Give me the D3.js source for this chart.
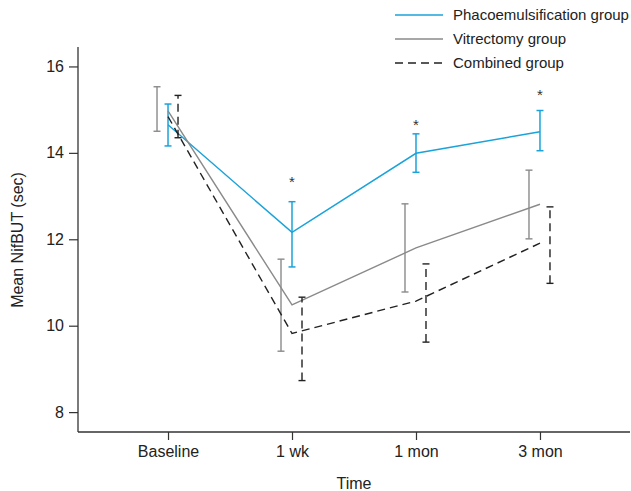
<!DOCTYPE html>
<html><head><meta charset="utf-8">
<script src="https://cdn.jsdelivr.net/npm/d3@7"></script>
<style>body{margin:0;background:#fff}svg{display:block}text{font-family:"Liberation Sans",Arial,sans-serif}</style>
</head><body><svg id="c" width="631" height="491"></svg>
<script>
const categories = ["Baseline", "1 wk", "1 mon", "3 mon"];
const yTicks = [8, 10, 12, 14, 16];
const seriesNames = ["Phacoemulsification group", "Vitrectomy group", "Combined group"];
const phacoMean = [14.65, 12.16, 13.99, 14.49];
const phacoLow  = [14.16, 11.36, 13.55, 14.05];
const phacoHigh = [15.13, 12.87, 14.44, 14.98];
const vitMean = [14.97, 10.48, 11.80, 12.81];
const vitLow  = [14.50, 9.41, 10.78, 12.01];
const vitHigh = [15.53, 11.54, 12.82, 13.60];
const combMean = [14.84, 9.82, 10.57, 11.91];
const combLow  = [14.35, 8.73, 9.62, 10.98];
const combHigh = [15.33, 10.66, 11.43, 12.75];
const starIdx = [1, 2, 3];
const starVal = [13.39, 14.72, 15.42];

const svg = d3.select("#c");
const x = d3.scalePoint().domain(categories).range([78, 630]).padding(0.726);
const y = d3.scaleLinear().domain([7.54, 16.45]).range([432, 47]);

const series = [
  {name: seriesNames[0], mean: phacoMean, lo: phacoLow, hi: phacoHigh, color: "#1aa3da", dash: null, off: 0, w: 1.5},
  {name: seriesNames[1], mean: vitMean, lo: vitLow, hi: vitHigh, color: "#8a8a8a", dash: null, off: -11, w: 1.4},
  {name: seriesNames[2], mean: combMean, lo: combLow, hi: combHigh, color: "#222", dash: "8,5", off: 10, w: 1.4}
];

// axes
const ya = svg.append("g").attr("transform", "translate(78,0)")
  .call(d3.axisLeft(y).tickValues(yTicks).tickSize(9).tickPadding(5).tickFormat(d3.format("d")));
const xa = svg.append("g").attr("transform", "translate(0,432)")
  .call(d3.axisBottom(x).tickSize(8).tickPadding(6));
[ya, xa].forEach(g => {
  g.select(".domain").attr("stroke", "#333").attr("stroke-width", 1.3);
  g.selectAll(".tick line").attr("stroke", "#333").attr("stroke-width", 1.2);
  g.selectAll(".tick text").attr("fill", "#222").style("font-size", "16px");
});
ya.select(".domain").attr("d", "M0,47V432");
xa.select(".domain").attr("d", "M78,0H630");

// lines and error bars
series.forEach(s => {
  const line = d3.line().x((d, i) => x(categories[i])).y(d => y(d));
  svg.append("path").datum(s.mean).attr("d", line).attr("fill", "none")
    .attr("stroke", s.color).attr("stroke-width", s.w).attr("stroke-dasharray", s.dash);
  const g = svg.append("g");
  categories.forEach((c, i) => {
    const cx = x(c) + s.off;
    g.append("line").attr("x1", cx).attr("x2", cx).attr("y1", y(s.lo[i])).attr("y2", y(s.hi[i]))
      .attr("stroke", s.color).attr("stroke-width", s.w).attr("stroke-dasharray", s.dash);
    [s.lo[i], s.hi[i]].forEach(v => {
      g.append("line").attr("x1", cx - 3.5).attr("x2", cx + 3.5).attr("y1", y(v)).attr("y2", y(v))
        .attr("stroke", s.color).attr("stroke-width", s.w);
    });
  });
});

// stars
starIdx.forEach((ci, k) => {
  svg.append("text").attr("x", x(categories[ci])).attr("y", y(starVal[k]) + 8)
    .attr("text-anchor", "middle").style("font-size", "15px").attr("fill", "#333").text("*");
});

// legend
series.forEach((s, i) => {
  const ly = 15 + i * 24;
  svg.append("line").attr("x1", 395).attr("x2", 443).attr("y1", ly).attr("y2", ly)
    .attr("stroke", s.color).attr("stroke-width", s.w).attr("stroke-dasharray", s.dash);
  svg.append("text").attr("x", 453).attr("y", ly).attr("dy", "0.35em")
    .style("font-size", "15px").attr("fill", "#222").text(s.name);
});

// axis titles
svg.append("text").attr("x", 354).attr("y", 489).attr("text-anchor", "middle")
  .style("font-size", "16px").attr("fill", "#222").text("Time");
svg.append("text").attr("transform", "translate(23,240) rotate(-90)").attr("text-anchor", "middle")
  .style("font-size", "16px").attr("fill", "#222").text("Mean NifBUT (sec)");
</script></body></html>
